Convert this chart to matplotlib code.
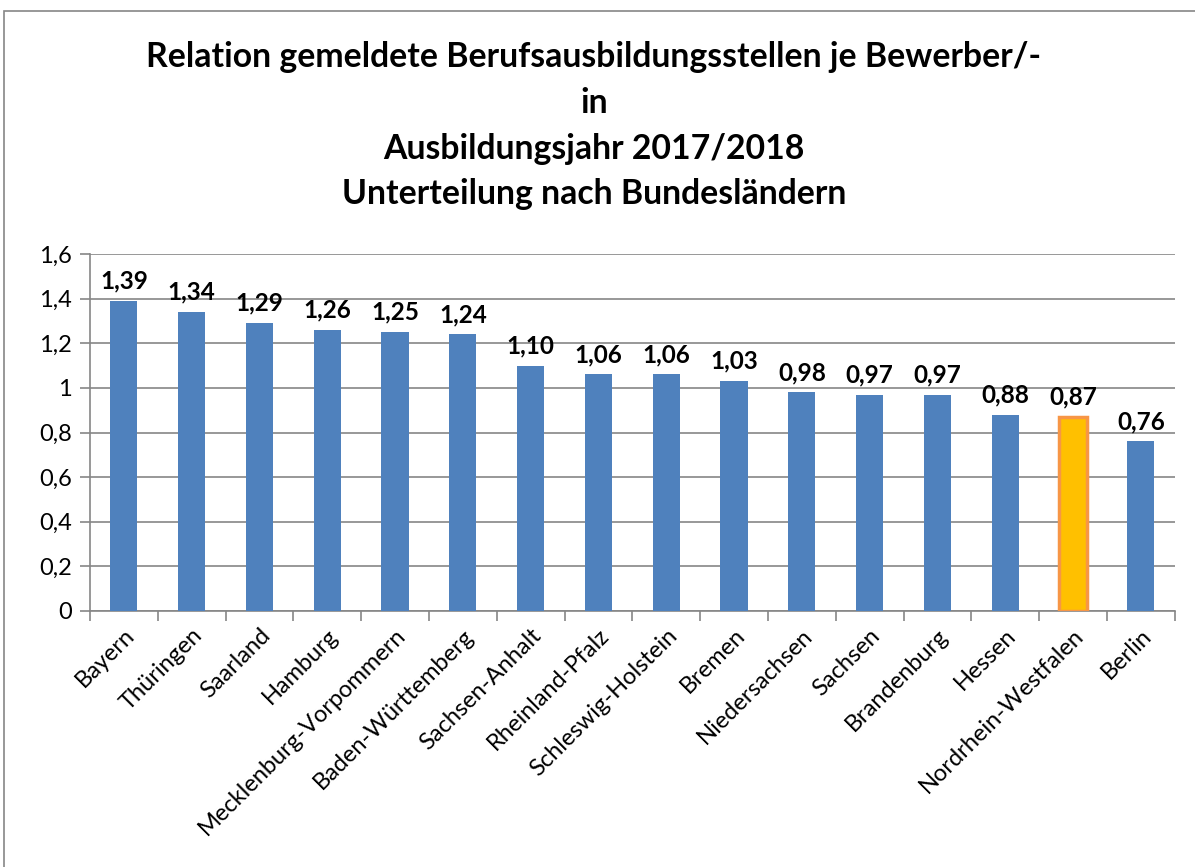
import matplotlib.pyplot as plt
from matplotlib.patches import Rectangle

# Daten
laender = ["Bayern", "Thüringen", "Saarland", "Hamburg", "Mecklenburg-Vorpommern",
           "Baden-Württemberg", "Sachsen-Anhalt", "Rheinland-Pfalz", "Schleswig-Holstein",
           "Bremen", "Niedersachsen", "Sachsen", "Brandenburg", "Hessen",
           "Nordrhein-Westfalen", "Berlin"]
relation = [1.39, 1.34, 1.29, 1.26, 1.25, 1.24, 1.10, 1.06, 1.06, 1.03,
            0.98, 0.97, 0.97, 0.88, 0.87, 0.76]
highlight = "Nordrhein-Westfalen"
y_ticks = [0, 0.2, 0.4, 0.6, 0.8, 1.0, 1.2, 1.4, 1.6]

plt.rcParams['font.family'] = ['Lato', 'DejaVu Sans']

fig = plt.figure(figsize=(11.95, 8.67), dpi=100)
ax = fig.add_axes([0.0753, 0.2953, 0.9077, 0.4117])

# Rahmen um das Diagramm
fig.patches.append(Rectangle((4 / 1195, -0.01), 1.02, 1 - 11 / 867 + 0.01,
                             transform=fig.transFigure, fill=False,
                             edgecolor="#868686", linewidth=1.2))

x = range(len(laender))
colors = ["#FFC000" if l == highlight else "#4F81BD" for l in laender]
edges = ["#F79646" if l == highlight else "#4F81BD" for l in laender]
lws = [2.5 if l == highlight else 0 for l in laender]
bars = ax.bar(x, relation, width=0.4, color=colors, edgecolor=edges, linewidth=lws, zorder=3)

for b, v in zip(bars, relation):
    ax.annotate(f"{v:.2f}".replace(".", ","), (b.get_x() + b.get_width() / 2, v),
                xytext=(0, 6), textcoords="offset points", ha="center", va="bottom",
                fontsize=17.5, fontweight="bold")

ax.set_ylim(0, 1.6)
ax.set_yticks(y_ticks)
ax.set_yticklabels([f"{t:g}".replace(".", ",") for t in y_ticks], fontsize=17)
ax.set_xlim(-0.5, len(laender) - 0.5)
ax.set_xticks(list(x))
ax.set_xticklabels(laender, rotation=45, ha="right", rotation_mode="anchor", fontsize=17)
ax.tick_params(axis="x", length=0, pad=10)
ax.set_xticks([i - 0.5 for i in range(len(laender) + 1)], minor=True)
ax.tick_params(axis="x", which="minor", length=7, color="#868686", width=1.2)
ax.tick_params(axis="y", length=7, color="#868686", width=1.2, pad=6)

ax.grid(axis="y", color="#868686", linewidth=1.2, zorder=0)
for s in ["top", "right"]:
    ax.spines[s].set_visible(False)
for s in ["left", "bottom"]:
    ax.spines[s].set_color("#868686")
    ax.spines[s].set_linewidth(1.2)

fig.text(0.497, 1 - 41 / 867,
         "Relation gemeldete Berufsausbildungsstellen je Bewerber/-\nin\n"
         "Ausbildungsjahr 2017/2018\nUnterteilung nach Bundesländern",
         ha="center", va="top", fontsize=24.3, fontweight="bold", linespacing=1.53)

fig.savefig("out.png", dpi=100)
